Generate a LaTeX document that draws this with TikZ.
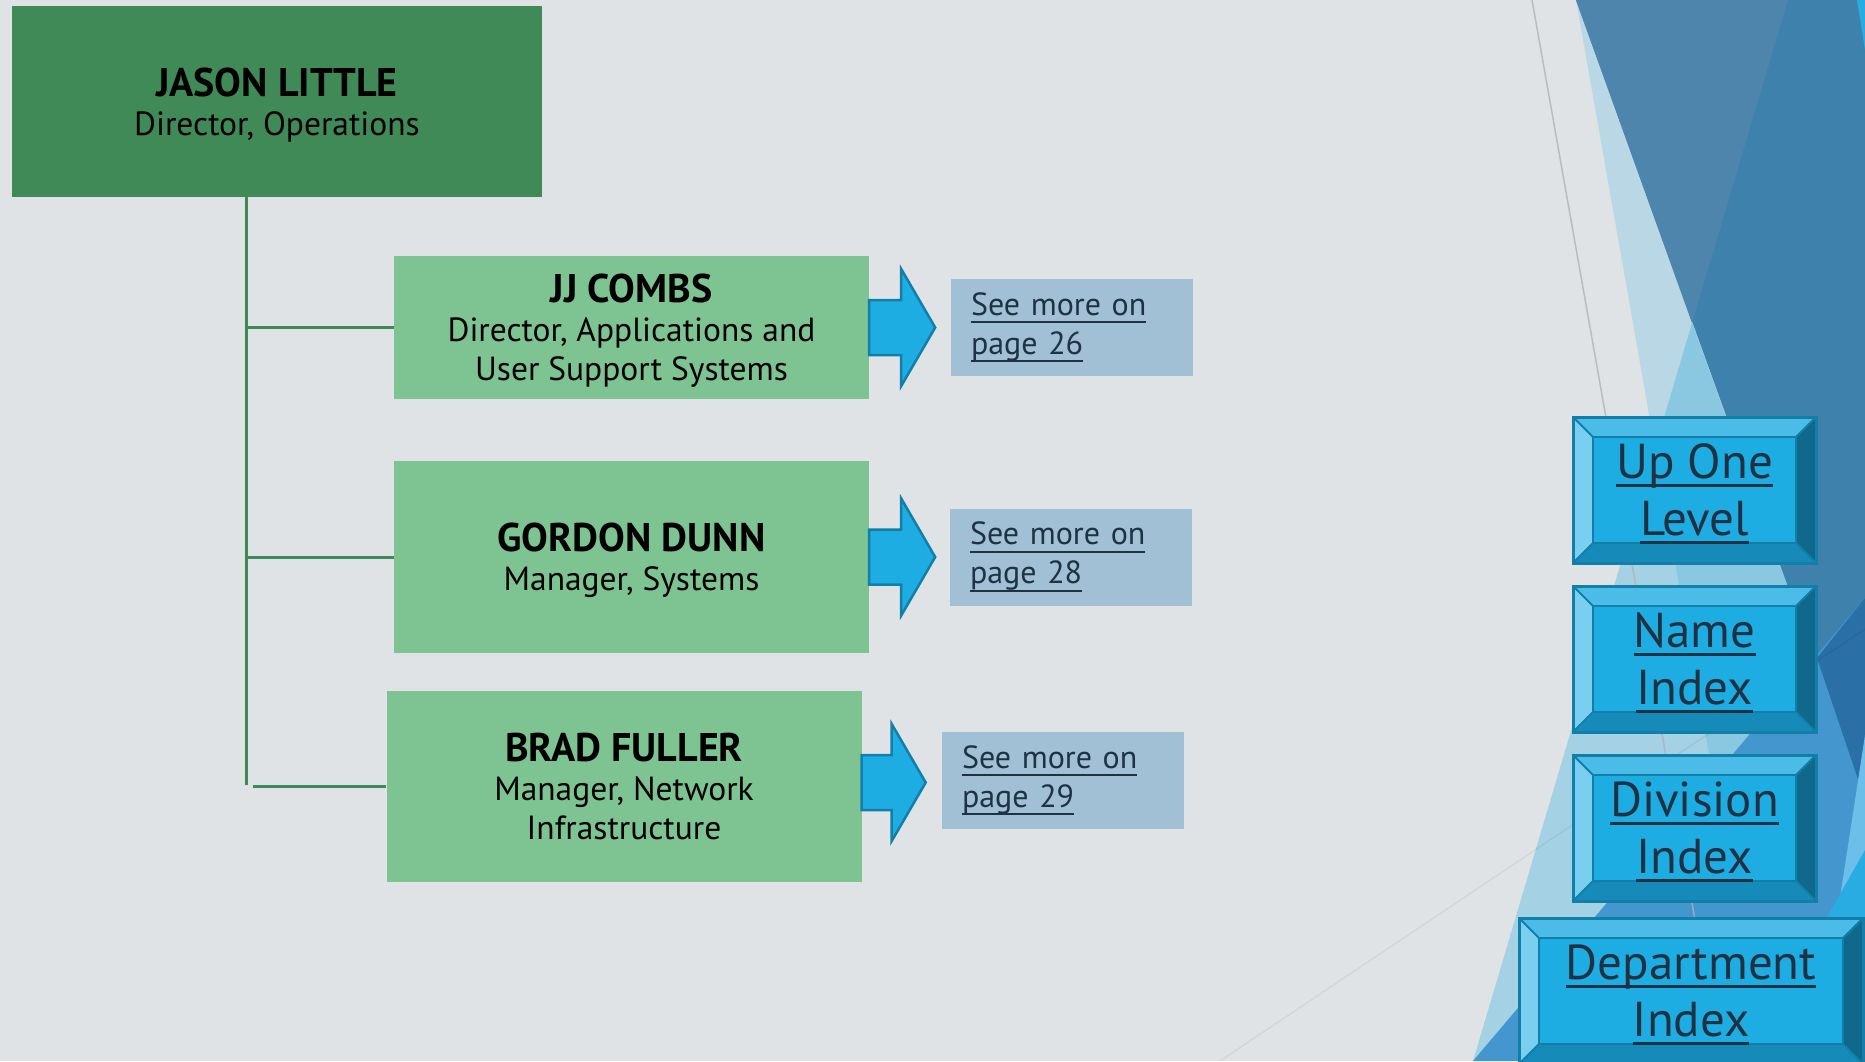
\documentclass[tikz,border=0pt]{standalone}
\usepackage{fontspec}
\setmainfont{PT Sans}
\usepackage{xcolor}
\usetikzlibrary{positioning}

\definecolor{slideGrey}{HTML}{DFE3E6}
\definecolor{facetBlue}{RGB}{36,169,224}
\definecolor{deepBlue}{HTML}{3E81AD}
\definecolor{slateBlue}{HTML}{4D85AC}
\definecolor{midBlue}{HTML}{4396CE}
\definecolor{nightBlue}{HTML}{2A6FA6}
\definecolor{skyBlue}{HTML}{6BBFE8}
\definecolor{brightBlue}{HTML}{29ACE2}
\definecolor{bossGreen}{HTML}{3F8A56}
\definecolor{staffGreen}{HTML}{7DC492}
\definecolor{treeGreen}{HTML}{3E8A57}
\definecolor{pageBlue}{HTML}{A1C0D6}
\definecolor{inkBlue}{HTML}{1E3243}
\definecolor{btnFace}{HTML}{1EADE3}
\definecolor{btnEdge}{HTML}{127FA8}
\definecolor{btnTop}{HTML}{4BBCE8}
\definecolor{btnLeft}{HTML}{7ACFF0}
\definecolor{btnRight}{HTML}{11688D}
\definecolor{btnBottom}{HTML}{168BBA}

\newcommand\linkline[2][2pt]{\leavevmode\setbox0\hbox{#2}\rlap{\copy0}\rule[-8pt]{\wd0}{#1}}

\begin{document}
\begin{tikzpicture}[x=1pt, y=-1pt,
		person/.style={
			rectangle,
			inner sep=0,
			align=center,
			text=black,
			text depth=0pt,
			font=\fontsize{33.5}{39}\selectfont
		},
		bossbox/.style={person, fill=bossGreen, minimum width=530pt, minimum height=191pt},
		staffbox/.style={person, fill=staffGreen, minimum width=475pt},
		seebox/.style={
			rectangle,
			fill=pageBlue,
			text=inkBlue,
			align=left,
			text width=202pt,
			inner xsep=20pt, inner ysep=0,
			minimum height=97pt,
			font=\fontsize{32}{39}\selectfont
		},
		orgline/.style={draw=treeGreen, line width=3pt},
		pointer/.style={fill=btnFace, draw=btnEdge, line width=2.5pt, line join=miter},
		navbutton/.style={
			rectangle,
			fill=btnFace,
			draw=btnEdge,
			line width=3pt,
			minimum height=146pt,
			inner sep=0,
			align=center,
			text=inkBlue,
			text depth=0pt,
			font=\fontsize{49}{57}\selectfont,
			path picture={
				\fill[btnTop] (path picture bounding box.north west) -- (path picture bounding box.north east)
					-- ([shift={(-20pt,-20pt)}]path picture bounding box.north east) -- ([shift={(20pt,-20pt)}]path picture bounding box.north west) -- cycle;
				\fill[btnLeft] (path picture bounding box.north west) -- (path picture bounding box.south west)
					-- ([shift={(20pt,20pt)}]path picture bounding box.south west) -- ([shift={(20pt,-20pt)}]path picture bounding box.north west) -- cycle;
				\fill[btnRight] (path picture bounding box.north east) -- (path picture bounding box.south east)
					-- ([shift={(-20pt,20pt)}]path picture bounding box.south east) -- ([shift={(-20pt,-20pt)}]path picture bounding box.north east) -- cycle;
				\fill[btnBottom] (path picture bounding box.south west) -- (path picture bounding box.south east)
					-- ([shift={(-20pt,20pt)}]path picture bounding box.south east) -- ([shift={(20pt,20pt)}]path picture bounding box.south west) -- cycle;
				\draw[btnEdge, line width=2pt] ([shift={(20pt,-20pt)}]path picture bounding box.north west) rectangle ([shift={(-20pt,20pt)}]path picture bounding box.south east);
				\draw[btnEdge, line width=2pt] (path picture bounding box.north west) -- ++(20pt,-20pt);
				\draw[btnEdge, line width=2pt] (path picture bounding box.north east) -- ++(-20pt,-20pt);
				\draw[btnEdge, line width=2pt] (path picture bounding box.south west) -- ++(20pt,20pt);
				\draw[btnEdge, line width=2pt] (path picture bounding box.south east) -- ++(-20pt,20pt);
			}
		}]
	\fill[slideGrey] (0,0) rectangle (1865,1061);
	\useasboundingbox (0,0) rectangle (1865,1061);
	
	% facet background
	\fill[facetBlue, opacity=0.2] (1576,0) -- (1865,0) -- (1865,1061) -- (1763,1061) -- cycle;
	\fill[facetBlue, opacity=0.31] (1692,323) -- (1865,800) -- (1865,1061) -- (1473,1061) -- cycle;
	\fill[deepBlue] (1576,0) -- (1865,0) -- (1865,800) -- cycle;
	\fill[slateBlue] (1576,0) -- (1788,0) -- (1692,323) -- cycle;
	\fill[midBlue] (1473,1061) -- (1865,598) -- (1865,1061) -- cycle;
	\fill[nightBlue] (1817,658) -- (1865,598) -- (1865,800) -- cycle;
	\fill[skyBlue] (1865,735) -- (1837,917) -- (1815,1061) -- (1865,1061) -- cycle;
	\fill[brightBlue] (1865,850) -- (1745,1061) -- (1865,1061) -- cycle;
	\fill[brightBlue] (1857,0) -- (1865,0) -- (1865,50) -- cycle;
	\draw[black!30, opacity=0.8, line width=1.5pt] (1532,0) -- (1720,1061);
	\draw[black, opacity=0.05, line width=1.5pt] (1220,1061) -- (1865,629);
	
	% people
	\node at (277,101.5)[bossbox](jason){{\fontsize{40}{39}\selectfont\bfseries JASON LITTLE}\\Director, Operations};
	\node at (631.5,327.5)[staffbox, minimum height=143pt](combs){{\fontsize{40}{39}\selectfont\bfseries JJ COMBS}\\Director, Applications and\\User Support Systems};
	\node at (631.5,557)[staffbox, minimum height=192pt](dunn){{\fontsize{40}{39}\selectfont\bfseries GORDON DUNN}\\Manager, Systems};
	\node at (624,786.5)[staffbox, minimum height=191pt](fuller){{\fontsize{40}{39}\selectfont\bfseries BRAD FULLER}\\Manager, Network\\Infrastructure};
	
	\coordinate (trunk) at (246,785);
	\draw[orgline] ([xshift=-31pt]jason.south) -- (trunk);
	\draw[orgline] (trunk |- combs.west) -- (combs.west);
	\draw[orgline] (trunk |- dunn.west) -- (dunn.west);
	\draw[orgline] ([xshift=7pt]trunk |- fuller.west) -- (fuller.west);
	
	% page links
	\node at (1072,327.5)[seebox](seeCombs){\linkline{See more on}\\\linkline{page 26}};
	\node at (1071,557)[seebox](seeDunn){\linkline{See more on}\\\linkline{page 28}};
	\node at (1063,780.5)[seebox](seeFuller){\linkline{See more on}\\\linkline{page 29}};
	
	\draw[pointer] (combs.east) ++(0,-27.5) -- ++(32,0) -- ++(0,-31) -- ++(34,58.5) -- ++(-34,58.5) -- ++(0,-31) -- ++(-32,0) -- cycle;
	\draw[pointer] (dunn.east) ++(0,-27.5) -- ++(32,0) -- ++(0,-31) -- ++(34,58.5) -- ++(-34,58.5) -- ++(0,-31) -- ++(-32,0) -- cycle;
	\draw[pointer] ([yshift=4pt]fuller.east) ++(0,-27.5) -- ++(30,0) -- ++(0,-31) -- ++(34,58.5) -- ++(-34,58.5) -- ++(0,-31) -- ++(-30,0) -- cycle;
	
	% navigation
	\node at (1694.5,490)[navbutton, minimum width=243pt](upLevel){\linkline[3pt]{Up One}\\\linkline[3pt]{Level}};
	\node at (1694.5,659)[navbutton, minimum width=243pt](nameIdx){\linkline[3pt]{Name}\\\linkline[3pt]{Index}};
	\node at (1694.5,828)[navbutton, minimum width=243pt](divisionIdx){\linkline[3pt]{Division}\\\linkline[3pt]{Index}};
	\node at (1691,991)[navbutton, minimum width=344pt](departmentIdx){\linkline[3pt]{Department}\\\linkline[3pt]{Index}};
\end{tikzpicture}
\end{document}
